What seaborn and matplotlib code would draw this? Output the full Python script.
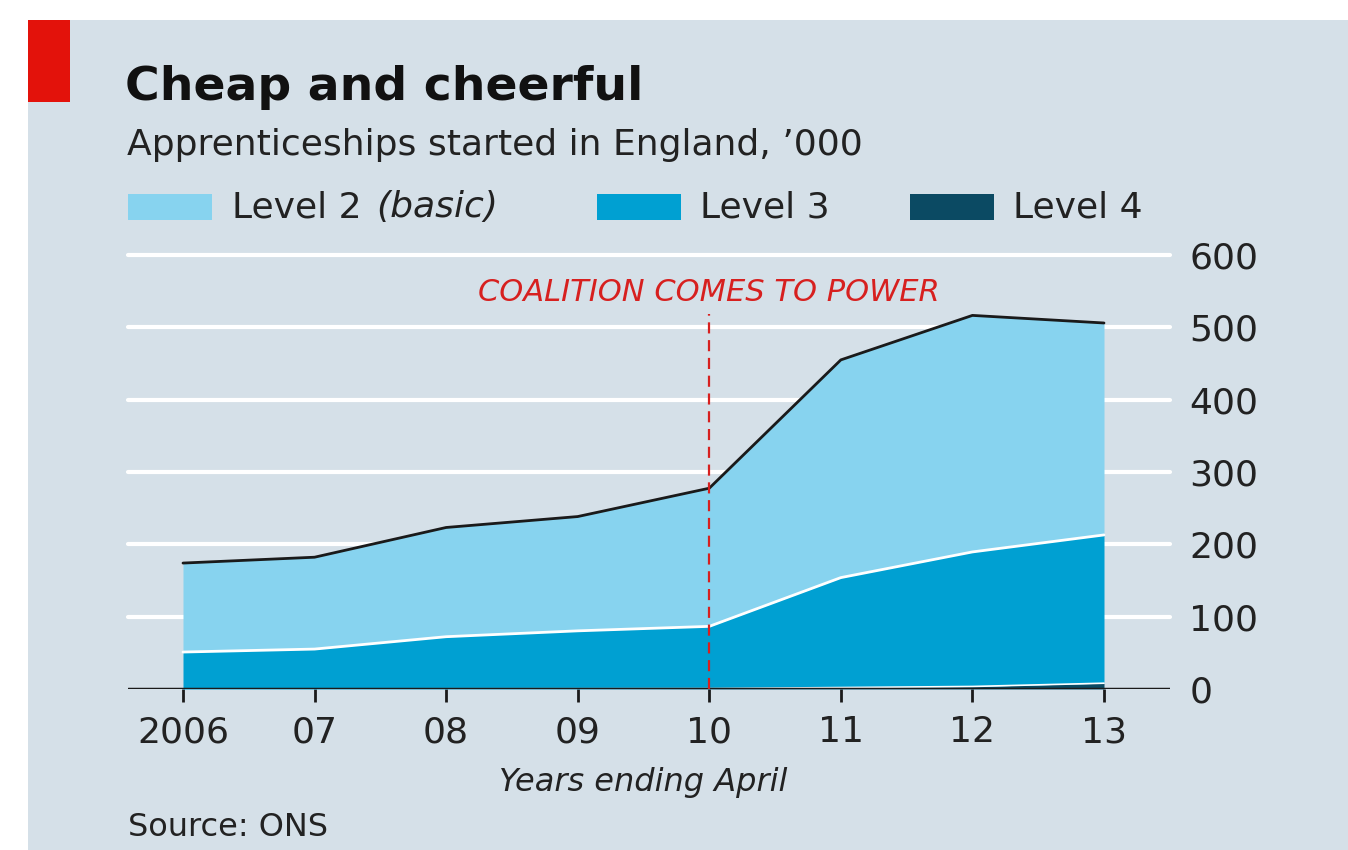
import numpy as np
import matplotlib
matplotlib.use("Agg")
import matplotlib.pyplot as plt
import seaborn as sns
import pandas as pd

# data, thousands of apprenticeships started
years = [2006, 2007, 2008, 2009, 2010, 2011, 2012, 2013]
year_labels = ['2006', '07', '08', '09', '10', '11', '12', '13']
level4 = [0.1, 0.2, 0.3, 0.4, 0.6, 2.0, 3.5, 8.0]
level3 = [51, 55, 72, 80, 86, 152, 186, 205]
level2 = [123, 127, 151, 158, 191, 301, 327, 293]
y_ticks = [0, 100, 200, 300, 400, 500, 600]
event_year = 2010
event_label = 'COALITION COMES TO POWER'

bg = '#d5e0e8'
c_l2 = '#87d3ef'
c_l3 = '#00a0d2'
c_l4 = '#0b4a63'
txt = '#222222'

sns.set_theme(style='white')
plt.rcParams['font.family'] = ['DejaVu Sans']

df = pd.DataFrame({'year': years, 'l4': level4, 'l3': level3, 'l2': level2})
df['top4'] = df['l4']
df['top3'] = df['l4'] + df['l3']
df['top2'] = df['top3'] + df['l2']

W, H = 1348, 850
fig = plt.figure(figsize=(W / 100, H / 100), dpi=100)
fig.patch.set_facecolor('white')

# background panel and red tag
fig.patches.append(plt.Rectangle((28 / W, 0), 1 - 28 / W, (H - 20) / H, transform=fig.transFigure,
                                 facecolor=bg, edgecolor='none', zorder=0))
fig.patches.append(plt.Rectangle((28 / W, (H - 102) / H), 42 / W, 82 / H, transform=fig.transFigure,
                                 facecolor='#e3120b', edgecolor='none', zorder=1))

ax = fig.add_axes([128 / W, (H - 689) / H, 1042 / W, 434 / H])
ax.set_zorder(5)
ax.patch.set_alpha(0)

x0 = 2006 - 55 / 131.57
x1 = 2013 + 66 / 131.57
ax.set_xlim(x0, x1)
ax.set_ylim(0, 600)

for v in y_ticks[1:]:
    ax.axhline(v, color='white', lw=3, zorder=1, clip_on=False)

ax.fill_between(df['year'], 0, df['top4'], color=c_l4, lw=0, zorder=2)
ax.fill_between(df['year'], df['top4'], df['top3'], color=c_l3, lw=0, zorder=2)
ax.fill_between(df['year'], df['top3'], df['top2'], color=c_l2, lw=0, zorder=2)

sns.lineplot(data=df, x='year', y='top4', color='white', lw=1.2, ax=ax, zorder=3)
sns.lineplot(data=df, x='year', y='top3', color='white', lw=2, ax=ax, zorder=3)
sns.lineplot(data=df, x='year', y='top2', color='#1a1a1a', lw=2, ax=ax, zorder=3)

ax.axhline(0, color='#1a1a1a', lw=2.5, zorder=4)
ax.plot([event_year, event_year], [0, 518], color='#d7201f', lw=1.6, ls=(0, (5, 3)), zorder=5)
ax.text(event_year, 548, event_label, color='#d7201f', style='italic',
        fontsize=22, ha='center', va='center', zorder=6)

for s in ax.spines.values():
    s.set_visible(False)

ax.set_xticks(years)
ax.set_xticklabels(year_labels, fontsize=26, color=txt)
ax.tick_params(axis='x', bottom=True, direction='out', length=9, width=2, color='#1a1a1a', pad=10)
ax.yaxis.tick_right()
ax.set_yticks(y_ticks)
ax.set_yticklabels([str(v) for v in y_ticks], fontsize=26, color=txt)
ax.tick_params(axis='y', length=0, pad=14)
ax.set_xlabel('')
ax.set_ylabel('')

# titles
fig.text(125 / W, 1 - 88 / H, 'Cheap and cheerful', fontsize=34, fontweight='bold', color='#111111',
         ha='left', va='center')
fig.text(127 / W, 1 - 145 / H, 'Apprenticeships started in England, \u2019000', fontsize=26, color=txt,
         ha='left', va='center')

# legend
for px, col in [(128, c_l2), (597, c_l3), (910, c_l4)]:
    fig.patches.append(plt.Rectangle((px / W, 1 - 220 / H), 84 / W, 26 / H, transform=fig.transFigure,
                                     facecolor=col, edgecolor='none', zorder=2))
fig.text(232 / W, 1 - 207 / H, 'Level 2', fontsize=26, color=txt, ha='left', va='center')
fig.text(376 / W, 1 - 207 / H, '(basic)', fontsize=26, style='italic', color=txt, ha='left', va='center')
fig.text(700 / W, 1 - 207 / H, 'Level 3', fontsize=26, color=txt, ha='left', va='center')
fig.text(1013 / W, 1 - 207 / H, 'Level 4', fontsize=26, color=txt, ha='left', va='center')

fig.text(643 / W, 1 - 782 / H, 'Years ending April', fontsize=23, style='italic', color=txt,
         ha='center', va='center')
fig.text(128 / W, 1 - 828 / H, 'Source: ONS', fontsize=23, color=txt, ha='left', va='center')

fig.savefig('out.png', dpi=100, facecolor='white')
